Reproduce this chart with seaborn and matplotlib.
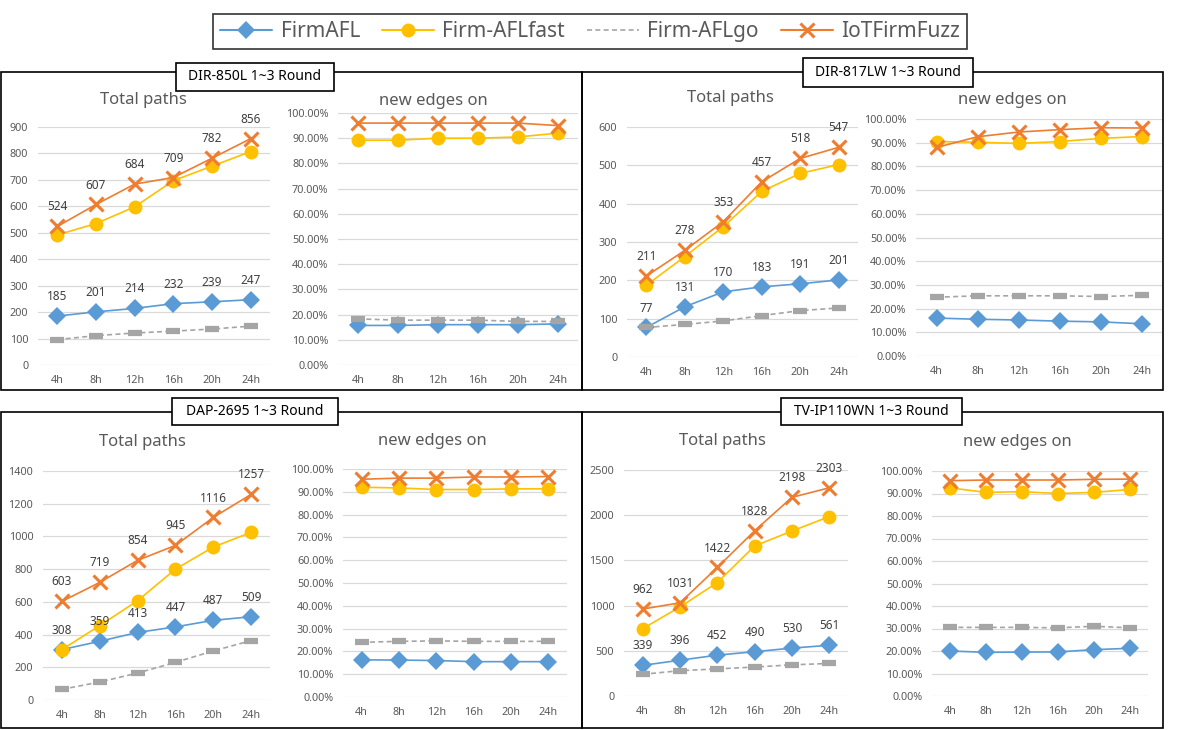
import numpy as np
import pandas as pd
import matplotlib
matplotlib.use("Agg")
import matplotlib.pyplot as plt
from matplotlib.lines import Line2D
from matplotlib.patches import Rectangle
from matplotlib.ticker import PercentFormatter, MultipleLocator
import seaborn as sns

hours = ["4h", "8h", "12h", "16h", "20h", "24h"]
series = ["FirmAFL", "Firm-AFLfast", "Firm-AFLgo", "IoTFirmFuzz"]
devices = ["DIR-850L", "DIR-817LW", "DAP-2695", "TV-IP110WN"]

# Total paths
paths_850l_firmafl = [185, 201, 214, 232, 239, 247]
paths_850l_fast = [492, 535, 598, 697, 752, 807]
paths_850l_go = [96, 111, 121, 128, 136, 147]
paths_850l_iot = [524, 607, 684, 709, 782, 856]

paths_817lw_firmafl = [77, 131, 170, 183, 191, 201]
paths_817lw_fast = [187, 262, 340, 432, 479, 502]
paths_817lw_go = [77, 85, 94, 108, 121, 128]
paths_817lw_iot = [211, 278, 353, 457, 518, 547]

paths_2695_firmafl = [308, 359, 413, 447, 487, 509]
paths_2695_fast = [308, 455, 607, 800, 935, 1025]
paths_2695_go = [65, 110, 165, 230, 300, 363]
paths_2695_iot = [603, 719, 854, 945, 1116, 1257]

paths_110wn_firmafl = [339, 396, 452, 490, 530, 561]
paths_110wn_fast = [745, 985, 1255, 1660, 1825, 1985]
paths_110wn_go = [240, 280, 300, 320, 345, 360]
paths_110wn_iot = [962, 1031, 1422, 1828, 2198, 2303]

# new edges on (%)
edges_850l_firmafl = [15.7, 15.7, 16.0, 16.0, 16.0, 16.3]
edges_850l_fast = [89.2, 89.2, 90.0, 90.0, 90.5, 92.0]
edges_850l_go = [18.3, 17.8, 17.8, 17.8, 17.3, 17.3]
edges_850l_iot = [96.0, 96.0, 96.0, 96.0, 96.0, 95.0]

edges_817lw_firmafl = [16.0, 15.5, 15.2, 14.7, 14.4, 13.6]
edges_817lw_fast = [90.5, 90.2, 89.7, 90.5, 91.8, 92.6]
edges_817lw_go = [24.8, 25.4, 25.4, 25.4, 25.1, 25.6]
edges_817lw_iot = [88.0, 92.5, 94.5, 95.5, 96.3, 96.2]

edges_2695_firmafl = [16.3, 16.2, 16.0, 15.5, 15.5, 15.5]
edges_2695_fast = [92.0, 91.7, 91.0, 91.0, 91.3, 91.3]
edges_2695_go = [24.0, 24.4, 24.6, 24.4, 24.4, 24.4]
edges_2695_iot = [95.5, 96.0, 96.0, 96.5, 96.5, 96.7]

edges_110wn_firmafl = [20.0, 19.4, 19.5, 19.6, 20.6, 21.2]
edges_110wn_fast = [92.5, 90.5, 90.8, 90.0, 90.5, 91.8]
edges_110wn_go = [30.5, 30.5, 30.5, 30.3, 31.0, 30.3]
edges_110wn_iot = [95.7, 96.0, 96.0, 96.0, 96.3, 96.4]

paths_data = [
    [paths_850l_firmafl, paths_850l_fast, paths_850l_go, paths_850l_iot],
    [paths_817lw_firmafl, paths_817lw_fast, paths_817lw_go, paths_817lw_iot],
    [paths_2695_firmafl, paths_2695_fast, paths_2695_go, paths_2695_iot],
    [paths_110wn_firmafl, paths_110wn_fast, paths_110wn_go, paths_110wn_iot],
]
edges_data = [
    [edges_850l_firmafl, edges_850l_fast, edges_850l_go, edges_850l_iot],
    [edges_817lw_firmafl, edges_817lw_fast, edges_817lw_go, edges_817lw_iot],
    [edges_2695_firmafl, edges_2695_fast, edges_2695_go, edges_2695_iot],
    [edges_110wn_firmafl, edges_110wn_fast, edges_110wn_go, edges_110wn_iot],
]
paths_max = [900, 600, 1400, 2500]
paths_step = [100, 100, 200, 500]

W, H = 1182, 730
sns.set_theme(style="white")
plt.rcParams["font.family"] = ["Noto Sans", "DejaVu Sans"]

colors = {"FirmAFL": "#5B9BD5", "Firm-AFLfast": "#FFC000",
          "Firm-AFLgo": "#A5A5A5", "IoTFirmFuzz": "#ED7D31"}
styles = {
    "FirmAFL": dict(marker="D", markersize=9, markeredgewidth=0, linestyle="-"),
    "Firm-AFLfast": dict(marker="o", markersize=10, markeredgewidth=0, linestyle="-"),
    "Firm-AFLgo": dict(marker="_", markersize=10, markeredgewidth=4.5, linestyle=(0, (3, 2))),
    "IoTFirmFuzz": dict(marker="x", markersize=10, markeredgewidth=2.2, linestyle="-"),
}
tick_color = "#595959"

fig = plt.figure(figsize=(W / 100, H / 100), dpi=100)
fig.patch.set_facecolor("white")

# overlay axes in pixel coordinates for the boxes
bg = fig.add_axes([0, 0, 1, 1])
bg.set_xlim(0, W)
bg.set_ylim(H, 0)
bg.axis("off")


def rect_axes(l, t, r, b):
    return fig.add_axes([l / W, 1 - b / H, (r - l) / W, (b - t) / H])


panel_boxes = [(1, 72, 582, 390), (582, 72, 1163, 390),
               (1, 412, 582, 728), (582, 412, 1163, 728)]
title_boxes = [(176, 63, 334, 91), (803, 58, 973, 87),
               (172, 398, 338, 425), (781, 398, 962, 425)]
left_rects = [(38, 127, 270, 365), (627, 127, 858, 357),
              (43, 471, 270, 700), (624, 470, 848, 696)]
right_rects = [(338, 113, 578, 365), (916, 119, 1162, 356),
               (343, 469, 567, 697), (932, 471, 1148, 696)]
left_titles = [(143, 100), (730, 98), (142, 442), (722, 441)]
right_titles = [(433, 101), (1012, 100), (432, 441), (1017, 442)]

for (l, t, r, b) in panel_boxes:
    bg.add_patch(Rectangle((l, t), r - l, b - t, fill=False, ec="black", lw=1.2))
for (l, t, r, b), dev in zip(title_boxes, devices):
    bg.add_patch(Rectangle((l, t), r - l, b - t, fc="white", ec="black", lw=1.2, zorder=3))
    bg.text((l + r) / 2, (t + b) / 2, f"{dev} 1~3 Round", ha="center", va="center",
            fontsize=10, color="black", zorder=4)
for (x, y) in left_titles:
    bg.text(x, y, "Total paths", ha="center", va="center", fontsize=12, color=tick_color)
for (x, y) in right_titles:
    bg.text(x, y, "new edges on", ha="center", va="center", fontsize=12, color=tick_color)


def style_axes(ax, ymax, step):
    ax.set_facecolor("none")
    ax.set_xlim(-0.5, 5.5)
    ax.set_ylim(0, ymax)
    ax.yaxis.set_major_locator(MultipleLocator(step))
    ax.grid(axis="y", color="#D9D9D9", lw=0.9)
    ax.set_axisbelow(True)
    for s in ax.spines.values():
        s.set_visible(False)
    ax.tick_params(axis="both", length=0, labelsize=7.8, colors=tick_color)
    ax.tick_params(axis="y", pad=7)
    ax.tick_params(axis="x", pad=7)
    ax.set_xlabel("")
    ax.set_ylabel("")


def draw(ax, name, vals):
    sns.lineplot(x=hours, y=vals, ax=ax, color=colors[name], linewidth=1.2,
                 errorbar=None, clip_on=False, markeredgecolor=colors[name],
                 **styles[name])


for i in range(4):
    axl = rect_axes(*left_rects[i])
    for name, vals in zip(series, paths_data[i]):
        draw(axl, name, vals)
        if name in ("FirmAFL", "IoTFirmFuzz"):
            for k, v in enumerate(vals):
                axl.annotate(str(v), (k, v), xytext=(0, 14), textcoords="offset points",
                             ha="center", va="center", fontsize=8.5, color="#404040")
    style_axes(axl, paths_max[i], paths_step[i])

    axr = rect_axes(*right_rects[i])
    for name, vals in zip(series, edges_data[i]):
        draw(axr, name, vals)
    style_axes(axr, 100, 10)
    axr.yaxis.set_major_formatter(PercentFormatter(100, decimals=2))

handles = [Line2D([], [], color=colors[n], lw=1.5, markeredgecolor=colors[n], **styles[n])
           for n in series]
handles[2] = Line2D([], [], color=colors["Firm-AFLgo"], lw=1.2, linestyle=(0, (3, 2)))
leg = fig.legend(handles, series, loc="center", bbox_to_anchor=(590 / W, 1 - 31.5 / H),
                 ncol=4, fontsize=15, frameon=True, fancybox=False, handlelength=2.5,
                 columnspacing=1.05, handletextpad=0.4, borderpad=0.35,
                 labelcolor=tick_color)
leg.get_frame().set_edgecolor("black")
leg.get_frame().set_linewidth(1.2)

fig.savefig("out.png", dpi=100)
